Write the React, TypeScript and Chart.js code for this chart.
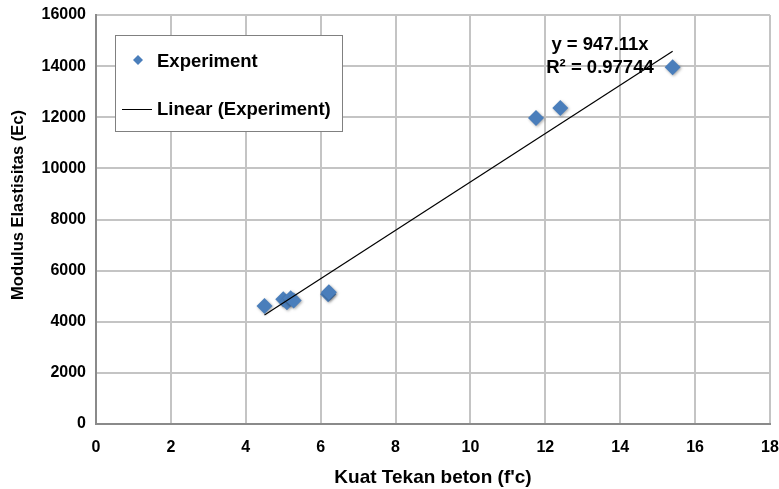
import React, { useEffect, useRef } from "react";
import { Chart, registerables } from "chart.js";
Chart.register(...registerables);

const fcValues = [4.5, 5.0, 5.1, 5.2, 5.28, 6.2, 6.22, 11.75, 12.4, 15.4];
const ecValues = [4620, 4880, 4760, 4920, 4830, 5080, 5150, 11970, 12360, 13960];
const slope = 947.11;
const rSquared = 0.97744;
const xTickMax = 18;
const xTickStep = 2;
const yTickMax = 16000;
const yTickStep = 2000;
const seriesName = "Experiment";
const trendName = "Linear (Experiment)";
const xTitle = "Kuat Tekan beton (f'c)";
const yTitle = "Modulus Elastisitas (Ec)";

const FONT = "'Liberation Sans', Arial, sans-serif";
const BLUE = "#4a7ebb";

export default function App() {
  const ref = useRef<HTMLCanvasElement>(null);
  useEffect(() => {
    document.body.style.margin = "0";
    const minX = Math.min(...fcValues);
    const maxX = Math.max(...fcValues);
    const trend = [
      { x: minX, y: slope * minX },
      { x: maxX, y: slope * maxX },
    ];
    const overlay = {
      id: "overlay",
      beforeDatasetDraw(chart: any, args: any) {
        if (args.index === 1) {
          chart.ctx.save();
          chart.ctx.shadowColor = "rgba(0,0,0,0.35)";
          chart.ctx.shadowBlur = 3;
          chart.ctx.shadowOffsetX = 1;
          chart.ctx.shadowOffsetY = 1;
        }
      },
      afterDatasetDraw(chart: any, args: any) {
        if (args.index === 1) chart.ctx.restore();
      },
      afterDatasetsDraw(chart: any) {
        const ctx = chart.ctx;
        ctx.save();
        const bx = 115.5, by = 35.5, bw = 227, bh = 96;
        ctx.fillStyle = "#fff";
        ctx.fillRect(bx, by, bw, bh);
        ctx.strokeStyle = "#808080";
        ctx.lineWidth = 1;
        ctx.strokeRect(bx, by, bw, bh);
        ctx.fillStyle = BLUE;
        ctx.beginPath();
        const dx = 138, dy = 60, r = 5;
        ctx.moveTo(dx, dy - r);
        ctx.lineTo(dx + r, dy);
        ctx.lineTo(dx, dy + r);
        ctx.lineTo(dx - r, dy);
        ctx.closePath();
        ctx.fill();
        ctx.strokeStyle = "#000";
        ctx.lineWidth = 1;
        ctx.beginPath();
        ctx.moveTo(122, 109.5);
        ctx.lineTo(152, 109.5);
        ctx.stroke();
        ctx.fillStyle = "#000";
        ctx.font = `bold 18.5px ${FONT}`;
        ctx.textBaseline = "middle";
        ctx.textAlign = "left";
        ctx.fillText(seriesName, 157, 62);
        ctx.fillText(trendName, 157, 110);
        ctx.textAlign = "center";
        ctx.fillText(`y = ${slope}x`, 600, 45);
        ctx.fillText(`R² = ${rSquared}`, 600, 68);
        // x axis title
        ctx.font = `bold 19px ${FONT}`;
        ctx.fillText(xTitle, 433, 478);
        // y axis title
        ctx.translate(18, 205);
        ctx.rotate(-Math.PI / 2);
        ctx.font = `bold 16.5px ${FONT}`;
        ctx.fillText(yTitle, 0, 0);
        ctx.restore();
      },
    };
    const chart = new Chart(ref.current!, {
      type: "scatter",
      data: {
        datasets: [
          {
            label: trendName,
            type: "line",
            data: trend,
            borderColor: "#000",
            borderWidth: 1.2,
            pointRadius: 0,
            fill: false,
          } as any,
          {
            label: seriesName,
            data: fcValues.map((x, i) => ({ x, y: ecValues[i] })),
            backgroundColor: BLUE,
            borderColor: BLUE,
            pointStyle: "rectRot",
            pointRadius: 8,
            borderWidth: 0,
          },
        ],
      },
      options: {
        animation: false,
        responsive: false,
        layout: { padding: { top: 15, right: 9, left: 0, bottom: 0 } },
        plugins: { legend: { display: false }, tooltip: { enabled: false } },
        scales: {
          x: {
            type: "linear",
            min: 0,
            max: xTickMax,
            ticks: {
              stepSize: xTickStep,
              color: "#000",
              font: { family: FONT, size: 16, weight: "bold" },
              padding: 14,
              callback: (v: any) => String(v),
            },
            grid: { color: "#c4c4c4", lineWidth: 2, drawTicks: false },
            border: { color: "#8a8a8a", width: 2 },
            afterFit(s: any) {
              s.height = 65;
              s.paddingLeft = 0;
              s.paddingRight = 0;
            },
          },
          y: {
            type: "linear",
            min: 0,
            max: yTickMax,
            ticks: {
              stepSize: yTickStep,
              color: "#000",
              font: { family: FONT, size: 16, weight: "bold" },
              padding: 10,
              callback: (v: any) => String(v),
            },
            grid: { color: "#c4c4c4", lineWidth: 2, drawTicks: false },
            border: { color: "#8a8a8a", width: 2 },
            afterFit(s: any) {
              s.width = 96;
              s.paddingTop = 0;
              s.paddingBottom = 0;
            },
          },
        },
      },
      plugins: [overlay],
    });
    return () => chart.destroy();
  }, []);
  return <canvas ref={ref} width={779} height={489} style={{ display: "block" }} />;
}
